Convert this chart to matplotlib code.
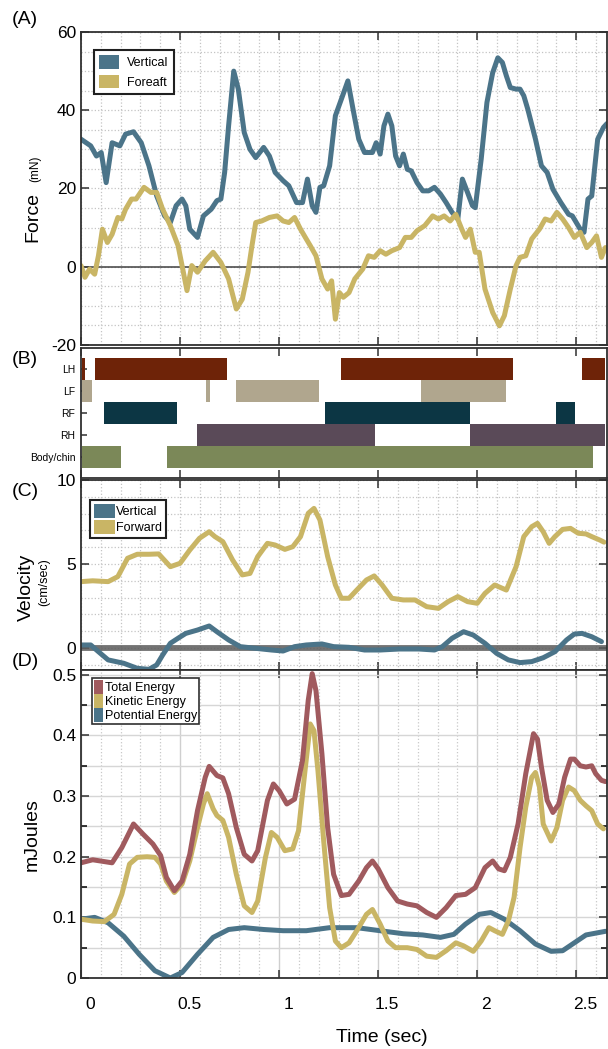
import matplotlib
matplotlib.use('Agg')
import matplotlib.pyplot as plt
from matplotlib.patches import Patch
from matplotlib.ticker import MultipleLocator
from matplotlib.transforms import ScaledTranslation

plt.rcParams['font.family'] = ['Liberation Sans', 'DejaVu Sans']
plt.rcParams['axes.unicode_minus'] = False

blue = '#4B7489'
gold = '#C9B565'
rose = '#A05A5E'

# (A) force, mN
t_fv = [0, 0.049, 0.078, 0.102, 0.127, 0.157, 0.196, 0.225, 0.265, 0.304, 0.343, 0.382, 0.422, 0.451,
        0.48, 0.51, 0.529, 0.549, 0.588, 0.618, 0.657, 0.686, 0.706, 0.725, 0.745, 0.771, 0.794, 0.824,
        0.853, 0.882, 0.922, 0.951, 0.98, 1.02, 1.049, 1.088, 1.118, 1.143, 1.167, 1.186, 1.206, 1.225,
        1.255, 1.284, 1.314, 1.347, 1.373, 1.402, 1.431, 1.471, 1.49, 1.51, 1.529, 1.549, 1.569, 1.588,
        1.608, 1.627, 1.647, 1.667, 1.696, 1.725, 1.755, 1.784, 1.814, 1.843, 1.873, 1.902, 1.925, 1.951,
        1.976, 1.99, 2.02, 2.049, 2.078, 2.104, 2.127, 2.147, 2.167, 2.196, 2.216, 2.235, 2.255, 2.294,
        2.324, 2.353, 2.382, 2.422, 2.461, 2.48, 2.5, 2.52, 2.539, 2.559, 2.578, 2.608, 2.637, 2.655]
force_vert = [32.6, 30.9, 28.3, 29.2, 21.5, 31.7, 30.9, 33.9, 34.5, 31.7, 25.8, 18.1, 13, 11.3,
              15.6, 17.3, 15.6, 9.6, 7.5, 13, 14.7, 16.9, 17.3, 24.1, 36, 50, 45.4, 34.3,
              30, 27.9, 30.5, 28.3, 24.1, 22, 20.7, 16.4, 16.4, 22.4, 15.6, 13.9, 20.3, 20.7,
              25.8, 38.6, 42.8, 47.5, 40.3, 32.6, 29.2, 29.2, 31.7, 28.8, 36, 39, 36, 28.3,
              25.8, 28.8, 24.9, 24.5, 21.5, 19.4, 19.4, 20.3, 18.6, 16.4, 13.9, 12.2, 22.4, 19,
              15.6, 15.1, 27.5, 42, 49.6, 53.4, 52.2, 48.8, 45.8, 45.4, 45.4, 43.7, 40.3, 32.6,
              25.8, 24.1, 19.8, 16.4, 13.4, 13, 11.3, 9.6, 8.8, 17.3, 18.1, 32.6, 35.6, 36.6]

t_ff = [0, 0.02, 0.043, 0.069, 0.088, 0.108, 0.133, 0.157, 0.186, 0.206, 0.225, 0.255, 0.278, 0.318,
        0.353, 0.382, 0.412, 0.451, 0.49, 0.51, 0.535, 0.559, 0.588, 0.627, 0.667, 0.706, 0.745, 0.784,
        0.814, 0.843, 0.863, 0.882, 0.912, 0.951, 0.99, 1.02, 1.049, 1.078, 1.108, 1.137, 1.157, 1.186,
        1.216, 1.245, 1.265, 1.284, 1.304, 1.324, 1.353, 1.382, 1.422, 1.451, 1.48, 1.51, 1.539, 1.569,
        1.608, 1.637, 1.667, 1.696, 1.735, 1.775, 1.804, 1.833, 1.863, 1.892, 1.922, 1.941, 1.965, 1.99,
        2.01, 2.039, 2.078, 2.112, 2.137, 2.167, 2.196, 2.216, 2.245, 2.275, 2.314, 2.343, 2.373, 2.402,
        2.431, 2.461, 2.49, 2.52, 2.553, 2.578, 2.602, 2.627, 2.647]
force_fore = [0.3, -2.7, -0.6, -1.9, 2.8, 9.6, 6.2, 8.3, 12.6, 12.2, 14.7, 17.3, 17.3, 20.3,
              19, 19, 14.7, 10.5, 5.4, 0.3, -6.1, 0.3, -1.4, 1.5, 3.7, 1.1, -3.1, -10.8,
              -8.3, -1.4, 5.4, 11.3, 11.7, 12.6, 13, 11.7, 11.3, 12.6, 9.6, 7.1, 5.4, 2.8,
              -3.1, -5.7, -3.6, -13.4, -6.6, -7.8, -6.6, -3.1, -0.6, 2.8, 2.4, 4.1, 3.2, 4.1,
              4.9, 7.5, 7.5, 9.2, 10.5, 13, 12.2, 13, 11.7, 13.4, 9.6, 7.5, 9.6, 3.7,
              3.7, -5.7, -11.7, -15.1, -12.5, -5.7, 0.3, 2.4, 2.8, 7.1, 9.6, 12.2, 11.7, 13.9,
              12.2, 10, 7.5, 8.8, 4.9, 6.2, 7.9, 2.4, 4.9]

# (B) limb contact intervals, sec (start, end)
limbs = ['LH', 'LF', 'RF', 'RH', 'Body/chin']
limb_colors = ['#6E2308', '#B0A68E', '#0C3644', '#5A4A58', '#7B8858']
lh_contact = [(0.006, 0.02), (0.069, 0.735), (1.314, 2.182), (2.53, 2.647)]
lf_contact = [(0.006, 0.053), (0.633, 0.653), (0.784, 1.2), (1.716, 2.147)]
rf_contact = [(0.118, 0.484), (1.231, 1.965), (2.396, 2.496)]
rh_contact = [(0.584, 1.482), (1.965, 2.647)]
body_contact = [(0.006, 0.202), (0.435, 2.582)]

# (C) velocity, cm/sec
t_vf = [0, 0.059, 0.137, 0.186, 0.235, 0.284, 0.343, 0.392, 0.451, 0.5, 0.549, 0.598, 0.647, 0.676,
        0.716, 0.765, 0.814, 0.853, 0.892, 0.941, 0.98, 1.029, 1.069, 1.108, 1.147, 1.176, 1.206, 1.245,
        1.284, 1.314, 1.353, 1.392, 1.441, 1.48, 1.52, 1.569, 1.627, 1.686, 1.745, 1.804, 1.853, 1.902,
        1.951, 2.0, 2.039, 2.088, 2.147, 2.196, 2.235, 2.275, 2.304, 2.333, 2.363, 2.392, 2.431, 2.471,
        2.51, 2.549, 2.578, 2.618, 2.64]
vel_fwd = [3.95, 4.0, 3.95, 4.25, 5.34, 5.58, 5.58, 5.6, 4.84, 5.04, 5.83, 6.53, 6.92, 6.63,
           6.33, 5.24, 4.35, 4.44, 5.44, 6.23, 6.13, 5.87, 6.03, 6.63, 8.02, 8.31, 7.62, 5.44,
           3.75, 2.96, 2.96, 3.45, 4.05, 4.29, 3.75, 2.96, 2.86, 2.86, 2.46, 2.36, 2.76, 3.06,
           2.76, 2.66, 3.25, 3.75, 3.45, 4.84, 6.63, 7.22, 7.42, 6.92, 6.23, 6.63, 7.06, 7.12,
           6.83, 6.79, 6.63, 6.43, 6.3]

t_vv = [0, 0.049, 0.088, 0.137, 0.216, 0.284, 0.343, 0.382, 0.412, 0.451, 0.49, 0.529, 0.588, 0.647,
        0.686, 0.745, 0.804, 0.882, 0.961, 1.02, 1.078, 1.137, 1.216, 1.275, 1.353, 1.431, 1.51, 1.608,
        1.706, 1.784, 1.824, 1.873, 1.931, 1.98, 2.039, 2.098, 2.157, 2.216, 2.275, 2.333, 2.392, 2.451,
        2.49, 2.529, 2.578, 2.627]
vel_vert = [0.18, 0.18, -0.22, -0.71, -0.91, -1.21, -1.27, -1.01, -0.42, 0.28, 0.58, 0.87, 1.07, 1.31,
            0.97, 0.48, 0.08, -0.02, -0.12, -0.18, 0.08, 0.18, 0.24, 0.08, 0.04, -0.12, -0.12, -0.06,
            -0.06, -0.12, 0.08, 0.58, 0.97, 0.77, 0.28, -0.32, -0.71, -0.87, -0.81, -0.58, -0.22, 0.48,
            0.83, 0.87, 0.67, 0.38]

# (D) energy, mJ
t_et = [0, 0.059, 0.157, 0.206, 0.265, 0.314, 0.363, 0.402, 0.431, 0.471, 0.51, 0.549, 0.588, 0.627,
        0.647, 0.686, 0.716, 0.745, 0.784, 0.824, 0.863, 0.892, 0.941, 0.971, 1.0, 1.039, 1.078, 1.118,
        1.147, 1.167, 1.186, 1.216, 1.245, 1.275, 1.314, 1.353, 1.402, 1.441, 1.471, 1.5, 1.549, 1.598,
        1.647, 1.696, 1.745, 1.794, 1.843, 1.892, 1.941, 1.99, 2.039, 2.078, 2.108, 2.137, 2.167, 2.206,
        2.245, 2.284, 2.304, 2.324, 2.353, 2.382, 2.412, 2.441, 2.471, 2.49, 2.52, 2.549, 2.578, 2.598,
        2.627, 2.647]
e_total = [0.19, 0.195, 0.19, 0.215, 0.254, 0.237, 0.221, 0.202, 0.166, 0.144, 0.16, 0.204, 0.276, 0.331,
           0.349, 0.334, 0.33, 0.304, 0.248, 0.204, 0.193, 0.21, 0.293, 0.32, 0.309, 0.287, 0.295, 0.359,
           0.458, 0.502, 0.474, 0.37, 0.248, 0.171, 0.136, 0.138, 0.16, 0.182, 0.193, 0.18, 0.149, 0.127,
           0.122, 0.119, 0.108, 0.1, 0.116, 0.136, 0.138, 0.149, 0.182, 0.193, 0.18, 0.177, 0.199, 0.254,
           0.337, 0.403, 0.394, 0.348, 0.293, 0.273, 0.287, 0.331, 0.361, 0.361, 0.35, 0.348, 0.35, 0.337,
           0.326, 0.324]

t_ek = [0, 0.059, 0.118, 0.167, 0.206, 0.245, 0.284, 0.333, 0.373, 0.402, 0.431, 0.471, 0.51, 0.549,
        0.588, 0.618, 0.637, 0.667, 0.686, 0.716, 0.745, 0.784, 0.824, 0.863, 0.892, 0.931, 0.961, 0.99,
        1.029, 1.069, 1.098, 1.127, 1.157, 1.176, 1.196, 1.225, 1.255, 1.284, 1.314, 1.353, 1.392, 1.441,
        1.471, 1.51, 1.549, 1.588, 1.647, 1.696, 1.745, 1.794, 1.843, 1.892, 1.931, 1.98, 2.02, 2.059,
        2.088, 2.127, 2.157, 2.186, 2.216, 2.245, 2.275, 2.294, 2.314, 2.333, 2.373, 2.402, 2.431, 2.461,
        2.49, 2.52, 2.549, 2.578, 2.608, 2.637]
e_kinetic = [0.097, 0.094, 0.093, 0.105, 0.138, 0.188, 0.199, 0.2, 0.199, 0.188, 0.16, 0.141, 0.155, 0.193,
             0.248, 0.287, 0.304, 0.279, 0.268, 0.26, 0.232, 0.171, 0.119, 0.108, 0.127, 0.199, 0.24, 0.232,
             0.21, 0.213, 0.243, 0.331, 0.419, 0.408, 0.342, 0.226, 0.116, 0.061, 0.05, 0.058, 0.078, 0.105,
             0.113, 0.089, 0.061, 0.05, 0.05, 0.047, 0.036, 0.034, 0.045, 0.058, 0.053, 0.044, 0.061, 0.083,
             0.078, 0.072, 0.094, 0.133, 0.215, 0.282, 0.331, 0.339, 0.315, 0.254, 0.226, 0.248, 0.293, 0.315,
             0.309, 0.293, 0.284, 0.276, 0.254, 0.246]

t_ep = [0, 0.069, 0.137, 0.216, 0.294, 0.373, 0.451, 0.51, 0.588, 0.667, 0.745, 0.824, 0.922, 1.02,
        1.137, 1.255, 1.392, 1.51, 1.627, 1.725, 1.814, 1.882, 1.941, 2.01, 2.069, 2.137, 2.216, 2.294,
        2.373, 2.431, 2.49, 2.549, 2.647]
e_potential = [0.097, 0.1, 0.091, 0.069, 0.039, 0.012, 0.0, 0.009, 0.039, 0.067, 0.08, 0.083, 0.08, 0.078,
               0.078, 0.083, 0.083, 0.078, 0.073, 0.071, 0.067, 0.072, 0.089, 0.105, 0.108, 0.097, 0.078, 0.056,
               0.044, 0.045, 0.058, 0.071, 0.077]

W, H = 608, 1049
fig = plt.figure(figsize=(W / 100, H / 100), dpi=100)


def add_panel(top, bottom):
    return fig.add_axes([81 / W, 1 - bottom / H, 526 / W, (bottom - top) / H])


def style(ax):
    for s in ax.spines.values():
        s.set_linewidth(1.3)
        s.set_color('#303030')
    ax.set_xlim(0, 2.655)
    ax.xaxis.set_major_locator(MultipleLocator(0.5))
    ax.xaxis.set_minor_locator(MultipleLocator(0.1))
    ax.tick_params(which='major', direction='in', top=True, right=True, length=6, width=1.1,
                   labelsize=12.5, labelbottom=False, color='#303030')
    ax.tick_params(which='minor', direction='in', top=True, right=True, length=0)
    ax.set_axisbelow(True)


line_kw = dict(lw=3.6, solid_joinstyle='round', solid_capstyle='round')

ax_a = add_panel(32, 345)
ax_b = add_panel(348, 478)
ax_c = add_panel(480, 670)
ax_d = add_panel(670, 978)
for ax in (ax_a, ax_b, ax_c, ax_d):
    style(ax)

# (A)
ax_a.set_ylim(-20, 60)
ax_a.yaxis.set_major_locator(MultipleLocator(20))
ax_a.yaxis.set_minor_locator(MultipleLocator(5))
ax_a.grid(which='both', ls=':', color='#c4c4c4', lw=0.9)
ax_a.axhline(0, color='#404040', lw=1.1, zorder=1.5)
ax_a.plot(t_fv, force_vert, color=blue, **line_kw)
ax_a.plot(t_ff, force_fore, color=gold, **line_kw)
leg = ax_a.legend(handles=[Patch(facecolor=blue, label='Vertical'), Patch(facecolor=gold, label='Foreaft')],
                  loc='upper left', bbox_to_anchor=(0.024, 0.944), fancybox=False, edgecolor='#202020',
                  framealpha=1, fontsize=9, handlelength=1.6, handleheight=1.3, borderpad=0.45,
                  labelspacing=0.45, handletextpad=0.6, borderaxespad=0)
leg.get_frame().set_linewidth(1.5)

# (B)
contacts = [lh_contact, lf_contact, rf_contact, rh_contact, body_contact]
rows = list(range(len(limbs)))[::-1]
for row, spans, col in zip(rows, contacts, limb_colors):
    ax_b.broken_barh([(s, e - s) for s, e in spans], (row - 0.5, 1), facecolors=col, zorder=2)
ax_b.set_ylim(-0.95, 4.95)
ax_b.set_yticks(rows)
ax_b.set_yticklabels(limbs, fontsize=7.5)
ax_b.tick_params(axis='y', which='major', length=4, right=False, pad=4)

# (C)
ax_c.set_ylim(-1.31, 10)
ax_c.yaxis.set_major_locator(MultipleLocator(5))
ax_c.yaxis.set_minor_locator(MultipleLocator(1))
ax_c.grid(which='both', ls=':', color='#c4c4c4', lw=0.9)
ax_c.axhline(0, color='#5a5a5a', lw=4.2, alpha=0.85, zorder=1.5)
ax_c.plot(t_vv, vel_vert, color=blue, **line_kw)
ax_c.plot(t_vf, vel_fwd, color=gold, **line_kw)
leg = ax_c.legend(handles=[Patch(facecolor=blue, label='Vertical'), Patch(facecolor=gold, label='Forward')],
                  loc='upper left', bbox_to_anchor=(0.017, 0.895), fancybox=False, edgecolor='#202020',
                  framealpha=1, fontsize=9, handlelength=1.7, handleheight=1.4, borderpad=0.3,
                  labelspacing=0.15, handletextpad=0.1, borderaxespad=0)
leg.get_frame().set_linewidth(1.5)

# (D)
ax_d.set_ylim(0, 0.508)
ax_d.yaxis.set_major_locator(MultipleLocator(0.1))
ax_d.yaxis.set_minor_locator(MultipleLocator(0.05))
ax_d.yaxis.set_major_formatter(lambda v, p: '0' if abs(v) < 1e-9 else f'{v:g}')
ax_d.tick_params(axis='y', which='minor', length=4, width=1.1)
ax_d.yaxis.grid(True, which='both', ls='-', color='#d6d6d6', lw=1.0)
ax_d.xaxis.grid(True, which='major', ls='-', color='#cfcfcf', lw=1.0)
ax_d.xaxis.grid(True, which='minor', ls=':', color='#c8c8c8', lw=0.9)
ax_d.plot(t_ep, e_potential, color=blue, **line_kw)
ax_d.plot(t_ek, e_kinetic, color=gold, **line_kw)
ax_d.plot(t_et, e_total, color=rose, **line_kw)
ax_d.tick_params(axis='x', labelbottom=True, pad=14)
ax_d.set_xticks([0, 0.5, 1, 1.5, 2, 2.5])
ax_d.set_xticklabels(['0', '0.5', '1', '1.5', '2', '2.5'])
for lab in ax_d.get_xticklabels():
    lab.set_transform(lab.get_transform() + ScaledTranslation(0.09, 0, fig.dpi_scale_trans))
leg = ax_d.legend(handles=[Patch(facecolor=rose, label='Total Energy'),
                           Patch(facecolor=gold, label='Kinetic Energy'),
                           Patch(facecolor=blue, label='Potential Energy')],
                  loc='upper left', bbox_to_anchor=(0.021, 0.974), fancybox=False, edgecolor='#303030',
                  framealpha=1, fontsize=9, handlelength=0.7, handleheight=1.3, borderpad=0.15,
                  labelspacing=0.0, handletextpad=0.15, borderaxespad=0)
leg.get_frame().set_linewidth(1.2)

# axis labels
fig.text(41 / W, 1 - 217 / H, 'Force', rotation=90, fontsize=14, ha='right', va='center')
fig.text(41 / W, 1 - 169 / H, '(mN)', rotation=90, fontsize=8.5, ha='right', va='center')
fig.text(35 / W, 1 - 587 / H, 'Velocity', rotation=90, fontsize=14, ha='right', va='center')
fig.text(50 / W, 1 - 582 / H, '(cm/sec)', rotation=90, fontsize=9, ha='right', va='center')
fig.text(41 / W, 1 - 835 / H, 'mJoules', rotation=90, fontsize=14, ha='right', va='center')
fig.text(382 / W, 1 - 1037 / H, 'Time (sec)', fontsize=14, ha='center', va='center')

for lab, y in [('(A)', 19), ('(B)', 359), ('(C)', 492), ('(D)', 662)]:
    fig.text(25 / W, 1 - y / H, lab, fontsize=14, ha='center', va='center')

fig.savefig('out.png', dpi=100)
